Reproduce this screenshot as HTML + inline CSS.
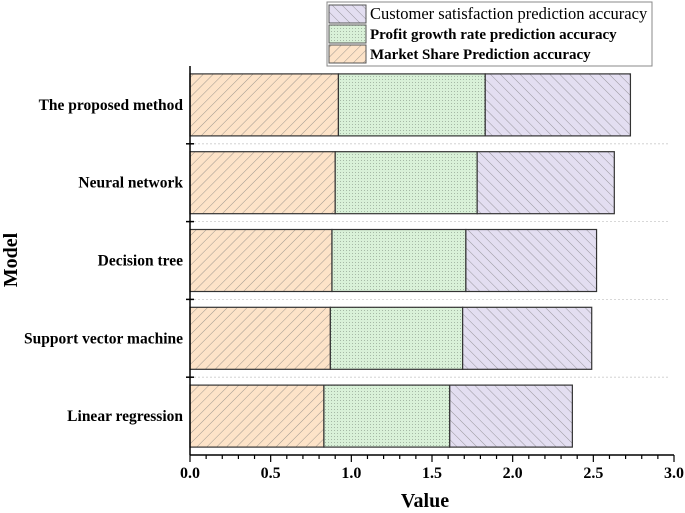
<!DOCTYPE html>
<html><head><meta charset="utf-8"><style>
body{margin:0;background:#fff;}
svg{display:block;font-family:"Liberation Serif",serif;}
</style></head><body>
<svg id="c" width="685" height="513">
<defs>
<pattern id="pOr" width="7" height="7" patternUnits="userSpaceOnUse" patternTransform="rotate(45)"><rect width="7" height="7" fill="#fde3c8"/><line x1="0" y1="0" x2="0" y2="7" stroke="#777" stroke-width="0.7"/></pattern>
<pattern id="pGr" width="3" height="3" patternUnits="userSpaceOnUse"><rect width="3" height="3" fill="#d9f1d8"/><rect x="1" y="1" width="0.8" height="0.8" fill="#8a9a8a"/></pattern>
<pattern id="pPu" width="7" height="7" patternUnits="userSpaceOnUse" patternTransform="rotate(-45)"><rect width="7" height="7" fill="#e3def1"/><line x1="0" y1="0" x2="0" y2="7" stroke="#777" stroke-width="0.7"/></pattern>
</defs>
<g id="plot"></g>
<text x="425" y="507" text-anchor="middle" font-size="20" font-weight="bold">Value</text>
<text transform="translate(17,260) rotate(-90)" text-anchor="middle" font-size="20" font-weight="bold">Model</text>
<g>
<rect x="327" y="2" width="325" height="64" fill="#fff" stroke="#888"/>
<rect x="329" y="5" width="37" height="18" fill="url(#pPu)" stroke="#555"/>
<text x="370" y="19" font-size="16.5">Customer satisfaction prediction accuracy</text>
<rect x="329" y="25" width="37" height="18" fill="url(#pGr)" stroke="#555"/>
<text x="370" y="39" font-size="15" font-weight="bold">Profit growth rate prediction accuracy</text>
<rect x="329" y="45" width="37" height="18" fill="url(#pOr)" stroke="#555"/>
<text x="370" y="59" font-size="15" font-weight="bold">Market Share Prediction accuracy</text>
</g>
</svg>
<script>
const categories=["The proposed method","Neural network","Decision tree","Support vector machine","Linear regression"];
const marketShare=[0.92,0.90,0.88,0.87,0.83];
const profitGrowth=[0.91,0.88,0.83,0.82,0.78];
const customerSat=[0.90,0.85,0.81,0.80,0.76];
const xTicks=[0,0.5,1.0,1.5,2.0,2.5,3.0];
const NS="http://www.w3.org/2000/svg";
const g=document.getElementById('plot');
const X0=190,X1=674,YT=66,YB=455;
const xs=v=>X0+(v-0)/(3-0)*(X1-X0);
const band=(YB-YT)/categories.length;
function mk(t,a,p){const e=document.createElementNS(NS,t);for(const k in a)e.setAttribute(k,a[k]);(p||g).appendChild(e);return e;}
for(let i=1;i<categories.length;i++){const y=YT+i*band;
const gl=mk('line',{x1:X0,x2:670,y1:y,y2:y,stroke:'#ccc','stroke-dasharray':'2,2','stroke-width':0.8});


const tk=mk('line',{x1:X0-4,x2:X0+4,y1:y,y2:y,stroke:'#000','stroke-width':1.5});

}
const series=[[marketShare,'url(#pOr)','market'],[profitGrowth,'url(#pGr)','profit'],[customerSat,'url(#pPu)','customer']];
categories.forEach((c,i)=>{
const yc=YT+band*(i+0.5),h=62;let acc=0;
series.forEach(s=>{const v=s[0][i];
const r=mk('rect',{x:xs(acc),y:yc-h/2,width:xs(acc+v)-xs(acc),height:h,fill:s[1],stroke:'#333','stroke-width':1.2});


acc+=v;});
const t=mk('text',{x:183,y:yc+5,'text-anchor':'end','font-size':15.5,'font-weight':'bold'});
t.textContent=c;


});
const ya=mk('line',{x1:X0,x2:X0,y1:YT,y2:YB,stroke:'#000','stroke-width':1.5});


const xa=mk('line',{x1:X0,x2:X1,y1:YB,y2:YB,stroke:'#000','stroke-width':1.5});


for(let v=0;v<=3.0001;v+=0.1){const x=xs(v);const major=Math.abs(v*2-Math.round(v*2))<1e-6;
const tk=mk('line',{x1:x,x2:x,y1:YB,y2:YB+(major?7:4),stroke:'#000','stroke-width':1.2});

}
xTicks.forEach(v=>{const t=mk('text',{x:xs(v),y:YB+23,'text-anchor':'middle','font-size':16,'font-weight':'bold'});
t.textContent=v.toFixed(1);

});
</script>
</body></html>
